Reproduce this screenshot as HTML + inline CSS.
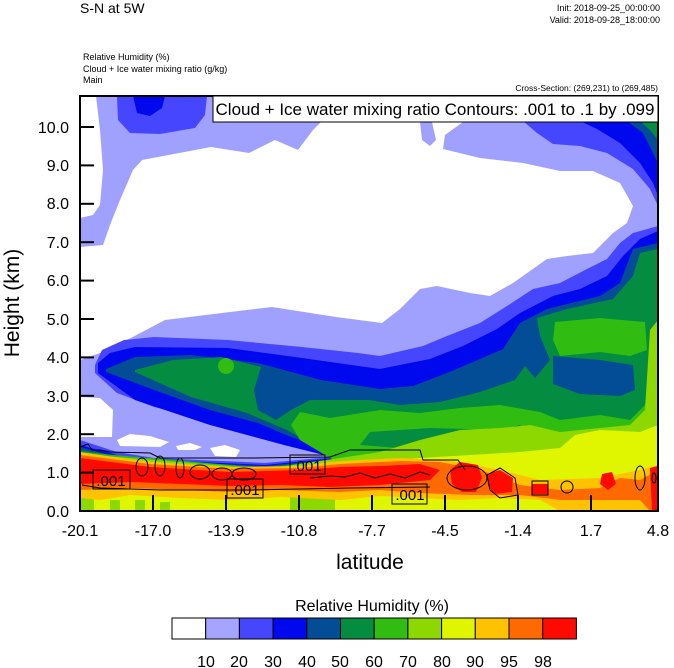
<!DOCTYPE html>
<html><head><meta charset="utf-8">
<style>
html,body{margin:0;padding:0;background:#fff;}
svg{display:block;font-family:"Liberation Sans",Arial,sans-serif;}
</style></head>
<body>
<svg width="674" height="668" viewBox="0 0 674 668" xmlns="http://www.w3.org/2000/svg">
<defs><clipPath id="pc"><rect x="80" y="96" width="578" height="415"/></clipPath></defs>
<g clip-path="url(#pc)" stroke="none">
<rect x="80" y="96" width="578" height="415" fill="#a0a0ff"/>
<!-- white -->
<polygon fill="#fff" points="80,96 96,96 100,130 103,170 100,205 93,215 80,218"/>
<polygon fill="#fff" points="80,247 103,245 110,225 120,200 133,170 142,160 211,147 249,153 275,140 298,150 313,130 321,122 420,122 422,140 430,146 436,140 432,122 463,122 445,135 443,149 480,158 523,163 560,171 593,171 620,183 633,206 627,223 613,233 593,253 567,256 547,259 513,283 490,296 470,293 437,286 420,289 400,309 382,323 336,317 272,307 222,313 165,320 127,340 100,353 80,360"/>
<polygon fill="#fff" points="80,397 100,398 113,410 112,437 80,437"/>
<polygon fill="#fff" points="117,440 130,434 150,436 169,442 160,447 120,446"/>
<polygon fill="#fff" points="176,446 190,443 202,447 195,450 178,450"/>
<polygon fill="#fff" points="210,448 225,445 240,450 236,457 215,456"/>
<!-- top-left blue -->
<polygon fill="#4646ff" points="117,96 207,96 205,115 195,128 160,134 130,133 118,120"/>
<polygon fill="#0008ee" points="133,96 165,96 162,108 150,116 137,113"/>
<!-- A -->
<polygon fill="#4646ff" points="520,96 523,121 537,133 553,144 580,146 607,153 633,169 650,189 658,206 658,96"/>
<polygon fill="#4646ff" points="95,365 102,350 124,340 154,337 228,340 302,347 358,353 380,356 423,346 447,336 480,323 507,306 533,289 560,283 587,269 607,259 620,243 633,233 658,226 658,511 80,511 80,440 117,452 154,458 265,463 332,457 317,450 287,440 258,430 210,420 154,407 117,393 95,373"/>
<!-- B -->
<polygon fill="#0008ee" points="575,96 580,121 597,129 620,143 640,163 653,183 658,196 658,96"/>
<polygon fill="#0008ee" points="98,363 110,353 135,347 228,348 302,358 380,369 430,359 463,346 497,329 520,313 553,296 580,289 607,276 623,256 640,239 658,231 658,511 80,511 80,445 117,455 154,460 265,465 335,458 324,455 284,445 210,425 135,400 98,373"/>
<!-- C -->
<polygon fill="#034d96" points="620,96 627,121 643,133 653,153 658,163 658,96"/>
<polygon fill="#034d96" points="106,369 135,357 191,355 258,363 321,380 380,389 413,386 447,373 480,359 503,349 520,323 547,309 600,296 620,283 633,249 658,243 658,511 80,511 80,447 117,457 154,461 265,466 335,459 321,447 291,437 258,423 210,410 154,390 106,372"/>
<!-- D -->
<polygon fill="#048c40" points="635,96 640,121 650,130 658,140 658,96"/>
<polygon fill="#048c40" points="135,370 173,360 221,357 261,367 254,390 258,410 276,420 291,410 310,400 369,400 400,405 440,402 480,392 515,380 525,366 535,378 550,360 540,336 537,318 567,309 613,299 633,276 640,253 658,249 658,511 80,511 80,450 154,462 265,467 335,460 332,455 310,443 287,430 247,413 191,397 135,372"/>
<polygon fill="#034d96" points="553,356 600,360 633,365 635,390 620,396 580,394 553,384"/>
<!-- E -->
<ellipse cx="226" cy="366" rx="8" ry="8" fill="#30bc10"/>
<polygon fill="#30bc10" points="555,322 600,318 645,322 647,350 630,356 600,352 560,356 553,340"/>
<polygon fill="#30bc10" points="291,425 300,412 330,418 380,410 420,413 460,408 500,405 540,412 560,420 600,415 630,420 645,405 650,370 652,330 658,320 658,511 80,511 80,452 265,468 335,461 300,440"/>
<polygon fill="#048c40" points="370,432 430,428 500,430 520,425 530,435 470,445 400,448 360,445"/>
<!-- F -->
<polygon fill="#8cd800" points="340,458 380,452 420,440 460,430 500,428 530,425 560,432 600,428 630,425 645,410 650,330 658,320 658,511 80,511 80,454 265,469"/>
<!-- G -->
<polygon fill="#e0f500" points="300,470 360,462 420,458 470,455 520,452 560,448 575,435 600,430 640,432 658,425 658,511 80,511 80,456 200,466"/>
<rect x="80" y="495" width="14" height="16" fill="#8cd800"/>
<rect x="110" y="500" width="10" height="11" fill="#8cd800"/>
<rect x="135" y="500" width="10" height="11" fill="#8cd800"/>
<rect x="160" y="502" width="10" height="9" fill="#8cd800"/>
<rect x="290" y="496" width="45" height="15" fill="#8cd800"/>
<!-- orange -->
<polygon fill="#ffc200" points="80,452 100,455 150,462 230,467 300,466 330,462 360,460 400,458 440,460 460,462 500,470 540,480 600,478 640,470 658,465 658,511 560,511 540,500 500,498 460,500 420,498 380,496 340,500 280,497 230,500 180,498 130,495 100,500 80,498"/>
<polygon fill="#ff6a00" points="80,455 150,464 230,469 300,468 340,464 400,461 440,462 480,470 520,485 560,490 600,488 620,478 640,480 658,470 658,511 650,511 640,500 560,500 520,495 470,495 420,493 380,490 340,492 280,490 230,492 180,490 130,488 80,490"/>
<!-- red -->
<polygon fill="#ff0a00" points="80,458 150,467 230,472 300,470 340,467 380,466 420,464 440,470 430,480 380,485 330,487 280,485 230,486 180,484 130,482 80,484"/>
<polygon fill="#ff0a00" points="450,470 460,462 478,465 482,478 476,492 462,492 452,484"/>
<polygon fill="#ff0a00" points="487,474 500,470 513,478 512,492 495,494 488,486"/>
<polygon fill="#ff0a00" points="650,468 658,466 658,511 652,511"/>
<polygon fill="#ff0a00" points="602,474 612,472 616,484 608,490 600,484"/>
<polygon fill="#ff0a00" points="532,484 548,484 548,494 532,494"/>
</g>
<!-- contours -->
<g fill="none" stroke="#000" stroke-width="1">
<path d="M80,447 L88,444 L92,450 L100,450 L110,452 L150,453 L160,458 L250,458 L330,457 L350,450 L420,450 L423,460 L458,460 L465,470"/>
<path d="M82,485 L100,488 L160,490 L250,490 L350,488 L430,487"/>
<path d="M310,478 L330,476 L345,477 L360,473 L375,478 L390,474 L405,478 L420,472 L430,475"/>
<ellipse cx="142" cy="467" rx="6" ry="9"/>
<ellipse cx="160" cy="466" rx="5" ry="10"/>
<ellipse cx="180" cy="468" rx="4" ry="10"/>
<ellipse cx="200" cy="472" rx="10" ry="7"/>
<ellipse cx="222" cy="474" rx="10" ry="6"/>
<ellipse cx="244" cy="474" rx="12" ry="6"/>
<ellipse cx="467" cy="478" rx="20" ry="12"/>
<path d="M487,475 L500,468 L515,478 L518,495 L500,498 L490,490 Z"/>
<rect x="532" y="481" width="16" height="14"/>
<circle cx="567" cy="487" r="6"/>
<ellipse cx="640" cy="478" rx="5" ry="12"/>
<ellipse cx="654" cy="478" rx="2" ry="5"/>
</g>
<g font-size="15" text-anchor="middle">
<rect x="93" y="470" width="37" height="19" fill="none" stroke="#000"/><text x="111" y="486">.001</text>
<rect x="227" y="479" width="36" height="19" fill="none" stroke="#000"/><text x="245" y="495">.001</text>
<rect x="290" y="455" width="35" height="19" fill="none" stroke="#000"/><text x="307" y="471">.001</text>
<rect x="392" y="484" width="35" height="20" fill="none" stroke="#000"/><text x="410" y="500">.001</text>
</g>
<!-- frame -->
<rect x="80" y="96" width="578" height="415" fill="none" stroke="#000" stroke-width="2"/>
<g stroke="#000" stroke-width="2">
<line x1="80" y1="127" x2="94" y2="127"/><line x1="80" y1="165.4" x2="94" y2="165.4"/><line x1="80" y1="203.8" x2="94" y2="203.8"/><line x1="80" y1="242.2" x2="94" y2="242.2"/><line x1="80" y1="280.6" x2="94" y2="280.6"/><line x1="80" y1="319" x2="94" y2="319"/><line x1="80" y1="357.4" x2="94" y2="357.4"/><line x1="80" y1="395.8" x2="94" y2="395.8"/><line x1="80" y1="434.2" x2="94" y2="434.2"/><line x1="80" y1="472.6" x2="94" y2="472.6"/>
<line x1="153" y1="511" x2="153" y2="495"/><line x1="226" y1="511" x2="226" y2="495"/><line x1="299" y1="511" x2="299" y2="495"/><line x1="372" y1="511" x2="372" y2="495"/><line x1="445" y1="511" x2="445" y2="495"/><line x1="518" y1="511" x2="518" y2="495"/><line x1="591" y1="511" x2="591" y2="495"/>
</g>
<rect x="213" y="96" width="445" height="26" fill="#fff" stroke="#000" stroke-width="1"/>
<text x="435" y="115" font-size="17" text-anchor="middle">Cloud + Ice water mixing ratio Contours: .001 to .1 by .099</text>
<!-- y labels -->
<g font-size="16" text-anchor="end">
<text x="69" y="133">10.0</text><text x="69" y="171">9.0</text><text x="69" y="209">8.0</text><text x="69" y="248">7.0</text><text x="69" y="286">6.0</text><text x="69" y="325">5.0</text><text x="69" y="363">4.0</text><text x="69" y="402">3.0</text><text x="69" y="440">2.0</text><text x="69" y="478">1.0</text><text x="69" y="517">0.0</text>
</g>
<g font-size="16" text-anchor="middle">
<text x="80" y="536">-20.1</text><text x="153" y="536">-17.0</text><text x="226" y="536">-13.9</text><text x="299" y="536">-10.8</text><text x="372" y="536">-7.7</text><text x="445" y="536">-4.5</text><text x="518" y="536">-1.4</text><text x="591" y="536">1.7</text><text x="658" y="536">4.8</text>
</g>
<text x="370" y="569" font-size="21" text-anchor="middle">latitude</text>
<text transform="translate(19,303) rotate(-90)" font-size="21" text-anchor="middle">Height (km)</text>
<!-- header -->
<text x="80" y="13" font-size="14">S-N at 5W</text>
<text x="660" y="11" font-size="9" text-anchor="end">Init: 2018-09-25_00:00:00</text>
<text x="660" y="23" font-size="9" text-anchor="end">Valid: 2018-09-28_18:00:00</text>
<text x="83" y="60" font-size="9">Relative Humidity   (%)</text>
<text x="83" y="72" font-size="9">Cloud + Ice water mixing ratio   (g/kg)</text>
<text x="83" y="83" font-size="9">Main</text>
<text x="658" y="91" font-size="8.5" text-anchor="end">Cross-Section: (269,231) to (269,485)</text>
<!-- colorbar -->
<text x="372" y="611" font-size="16" text-anchor="middle">Relative Humidity  (%)</text>
<g stroke="#000" stroke-width="1">
<rect x="172" y="618" width="33.7" height="21" fill="#ffffff"/>
<rect x="205.7" y="618" width="33.7" height="21" fill="#a5a5ff"/>
<rect x="239.4" y="618" width="33.7" height="21" fill="#4646ff"/>
<rect x="273.1" y="618" width="33.7" height="21" fill="#0008ee"/>
<rect x="306.8" y="618" width="33.7" height="21" fill="#034d96"/>
<rect x="340.5" y="618" width="33.7" height="21" fill="#048c40"/>
<rect x="374.2" y="618" width="33.7" height="21" fill="#30bc10"/>
<rect x="407.9" y="618" width="33.7" height="21" fill="#8cd800"/>
<rect x="441.6" y="618" width="33.7" height="21" fill="#e0f500"/>
<rect x="475.3" y="618" width="33.7" height="21" fill="#ffc200"/>
<rect x="509" y="618" width="33.7" height="21" fill="#ff6a00"/>
<rect x="542.7" y="618" width="33.7" height="21" fill="#ff0a00"/>
</g>
<g font-size="16" text-anchor="middle">
<text x="206" y="667">10</text><text x="239" y="667">20</text><text x="273" y="667">30</text><text x="307" y="667">40</text><text x="340" y="667">50</text><text x="374" y="667">60</text><text x="408" y="667">70</text><text x="442" y="667">80</text><text x="475" y="667">90</text><text x="509" y="667">95</text><text x="543" y="667">98</text>
</g>
</svg>
</body></html>
